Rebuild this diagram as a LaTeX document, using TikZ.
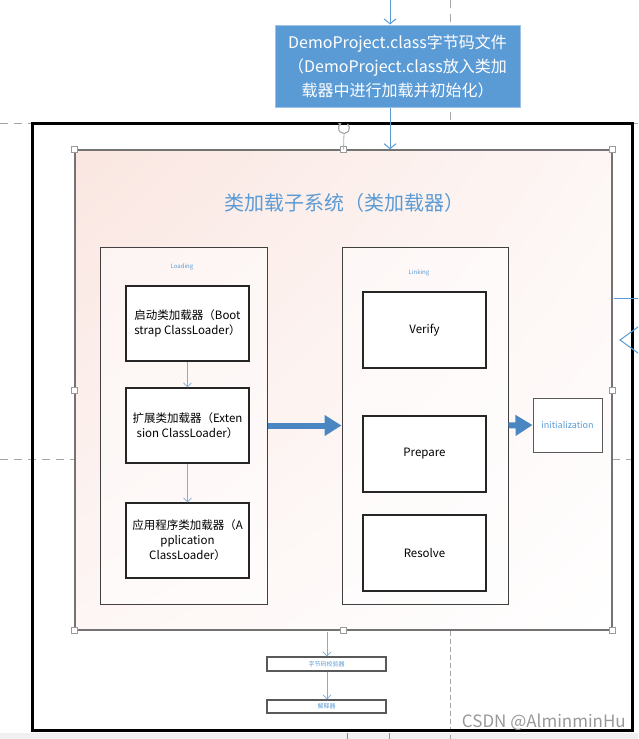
\documentclass[tikz,border=0pt]{standalone}
\usepackage{fontspec}
\setmainfont{Noto Sans CJK SC}
\usetikzlibrary{arrows.meta,shadings}
\definecolor{bluebox}{HTML}{5B9BD5}
\definecolor{blueline}{HTML}{5B9BD5}
\definecolor{bigarrow}{HTML}{4A86C2}
\definecolor{pinkish}{HTML}{FAE6E1}
\definecolor{handlegray}{HTML}{9A9A9A}
\tikzset{
  box/.style={draw=black!85, line width=1.1pt, fill=white, align=center, font=\fontsize{11.5}{15}\selectfont, inner sep=2pt},
  group/.style={draw=black!75, line width=1pt, fill=white, fill opacity=0.5, text opacity=1},
  tiny/.style={font=\fontsize{6}{7}\selectfont, text=bluebox},
  handle/.style={draw=handlegray, fill=white, line width=0.8pt, minimum size=6pt, inner sep=0pt},
  conn/.style={draw=blueline, line width=1pt, -{Straight Barb[length=5pt,width=12pt]}},
  thinconn/.style={draw=blueline!80, line width=0.7pt, -{Straight Barb[length=4pt,width=8pt]}},
  fat/.style={draw=bigarrow, line width=6pt, -{Triangle[length=17pt,width=20pt]}},
  dashline/.style={draw=black!35, dashed, dash pattern=on 8pt off 6pt, line width=0.8pt},
  shortdash/.style={draw=black!35, dashed, dash pattern=on 5pt off 3pt, line width=0.7pt},
}
\begin{document}
\begin{tikzpicture}[x=1pt,y=-1pt]
\useasboundingbox (0,0) rectangle (638,739);
\fill[white] (0,0) rectangle (638,739);
\fill[black!6] (0,733) rectangle (638,739);
% dashed guide lines
\draw[dashline] (450,0) -- (450,122);
\draw[dashline] (0,123) -- (32,123);
\draw[dashline] (632,123) -- (638,123);
\draw[dashline] (0,459) -- (75,459);
\draw[dashline] (612,459) -- (638,459);
\draw[shortdash] (450,631) -- (450,739);
% frame
\draw[line width=3pt, black] (32,123) rectangle (632,730);
% pink container
\shade[upper left=pinkish, upper right=pinkish!35, lower left=pinkish!35, lower right=white] (75,150) rectangle (612,630);
\node[draw=black!55, line width=1.4pt, minimum width=537pt, minimum height=480pt, inner sep=0pt] (pink) at (343.5,390) {};
\node[font=\fontsize{20}{24}\selectfont, text=bluebox] (title) at (344,203) {类加载子系统（类加载器）};
% top blue box
\node[fill=bluebox, draw=bluebox!60, line width=1pt, text=white, align=center, minimum width=245pt, minimum height=82pt, font=\fontsize{16}{24}\selectfont, inner sep=3pt] (blue) at (397.5,66)
  {DemoProject.class字节码文件\\（DemoProject.class放入类加\\载器中进行加载并初始化）};
\coordinate (top) at (390,0);
\draw[conn] (top) -- (top |- blue.north);
\draw[conn] (blue.south -| top) -- (top |- pink.north);
% Loading group
\node[group, minimum width=167pt, minimum height=357pt] (loading) at (183.5,425.5) {};
\node[tiny] (loadlbl) at (182,267) {Loading};
\node[box, minimum width=123pt, minimum height=75pt] (boot) at (187.5,323.5) {启动类加载器（Boot\\strap ClassLoader）};
\node[box, minimum width=123pt, minimum height=75pt] (ext) at (187.5,425.5) {扩展类加载器（Exten\\sion ClassLoader）};
\node[box, minimum width=123pt, minimum height=75pt] (app) at (187.5,540.5) {应用程序类加载器（A\\pplication\\ClassLoader）};
\draw[thinconn] (boot) -- (ext);
\draw[thinconn] (ext) -- (app);
% Linking group
\node[group, minimum width=166pt, minimum height=357pt] (linking) at (425,425.5) {};
\node[tiny] (linklbl) at (419,273) {Linking};
\node[box, minimum width=123pt, minimum height=76pt] (verify) at (424.5,330) {Verify};
\node[box, minimum width=123pt, minimum height=76pt] (prepare) at (424.5,454) {Prepare};
\node[box, minimum width=123pt, minimum height=76pt] (resolve) at (424.5,553) {Resolve};
% initialization
\node[draw=black!65, line width=1pt, fill=white, minimum width=69pt, minimum height=54pt, inner sep=0pt, text=bluebox, font=\fontsize{9}{11}\selectfont] (init) at (567.5,425) {initialization};
% fat arrows
\draw[fat] (loading.east) -- (linking.west);
\draw[fat] (linking.east) -- (init.west);
% selection handles
\foreach \a in {north west,north,north east,west,east,south west,south,south east}
  \node[handle] at (pink.\a) {};
\coordinate (rot) at (344,128);
\draw[handlegray!80, line width=0.8pt] (344,133) -- (pink.north);
\draw[handlegray!90, line width=1.1pt, -{Stealth[length=3pt,width=4.5pt]}] ([shift={(-50:5.5)}]rot) arc[start angle=-50, end angle=240, radius=5.5];
% bottom boxes
\node[draw=black!65, line width=1.1pt, fill=white, minimum width=119pt, minimum height=14pt, inner sep=0pt, tiny] (bv) at (326.5,664) {字节码校验器};
\node[draw=black!65, line width=1.1pt, fill=white, minimum width=119pt, minimum height=13pt, inner sep=0pt, tiny] (interp) at (326.5,706.5) {解释器};
\coordinate (bx) at (327,632);
\draw[thinconn] (bx) -- (bx |- bv.north);
\draw[thinconn] (bv.south -| bx) -- (bx |- interp.north);
% right side partial connectors
\coordinate (r1) at (614,298);
\coordinate (r2) at (638,298);
\draw[blueline, line width=1pt] (r1) -- (r2);
\coordinate (rt) at (620,340);
\draw[blueline, line width=1pt] (638,327) -- (rt) -- (638,353);
% bottom partial lines
\draw[blueline, line width=1pt] (347,733) -- (347,739);
\draw[blueline, line width=1pt] (389,733) -- (389,739);
% watermark
\node[text=black!40, font=\fontsize{17}{19}\selectfont, anchor=east, inner sep=0pt] (wm) at (626,722) {CSDN @AlminminHu};
\end{tikzpicture}
\end{document}
